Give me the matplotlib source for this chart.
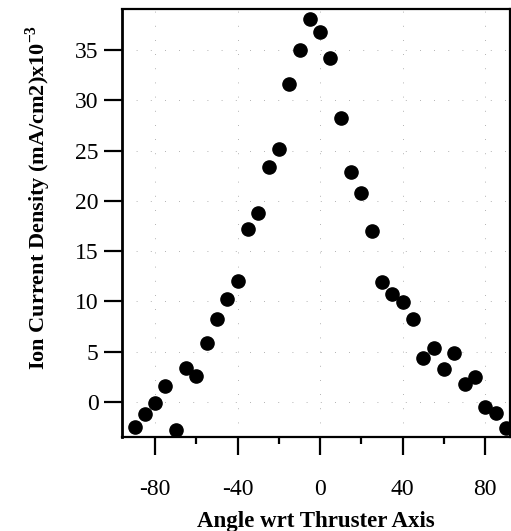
import matplotlib
matplotlib.use("Agg")
import matplotlib.pyplot as plt
from matplotlib.ticker import MultipleLocator

angle = [-90, -85, -80, -75, -70, -65, -60, -55, -50, -45, -40, -35, -30, -25, -20,
         -15, -10, -5, 0, 5, 10, 15, 20, 25, 30, 35, 40, 45, 50, 55, 60, 65, 70, 75,
         80, 85, 90]
density = [-2.5, -1.2, -0.1, 1.6, -2.8, 3.4, 2.6, 5.9, 8.2, 10.2, 12.0, 17.2, 18.8,
           23.4, 25.2, 31.6, 35.0, 38.1, 36.8, 34.2, 28.3, 22.9, 20.8, 17.0, 11.9,
           10.7, 9.9, 8.2, 4.4, 5.4, 3.3, 4.9, 1.8, 2.5, -0.5, -1.1, -2.6]
xticks = [-80, -40, 0, 40, 80]
yticks = [0, 5, 10, 15, 20, 25, 30, 35]

plt.rcParams['font.family'] = ['Liberation Serif', 'DejaVu Serif']
plt.rcParams['mathtext.fontset'] = 'custom'
plt.rcParams['mathtext.rm'] = 'Liberation Serif'
plt.rcParams['mathtext.bf'] = 'Liberation Serif:bold'
plt.rcParams['axes.unicode_minus'] = False

fig = plt.figure(figsize=(5.11, 5.31), dpi=100)
ax = fig.add_axes([0.239, 0.177, 0.759, 0.806])

ax.plot(angle, density, linestyle='none', marker='o', markersize=9.5,
        color='black')

ax.set_xlim(-96, 92)
ax.set_ylim(-3.5, 39.1)
ax.set_xticks(xticks)
ax.set_yticks(yticks)
ax.xaxis.set_minor_locator(MultipleLocator(20))

ax.grid(True, which='major', color='#999999', linewidth=0.6,
        linestyle=(0, (1, 16)))

for s in ax.spines.values():
    s.set_linewidth(1.6)
ax.spines['left'].set_linewidth(2.0)

ax.tick_params(axis='both', which='major', direction='out', length=13,
               width=1.6, labelsize=17, color='black')
ax.tick_params(axis='x', which='major', pad=17)
ax.tick_params(axis='y', which='major', pad=4)
ax.tick_params(axis='x', which='minor', direction='out', length=5, width=1.6)

ax.set_xlabel('Angle wrt Thruster Axis', fontsize=16.5, fontweight='bold')
ax.set_ylabel(r'Ion Current Density (mA/cm2)x10$^{\mathbf{-3}}$', fontsize=16,
              fontweight='bold')
ax.yaxis.set_label_coords(-0.178, 0.56)
ax.xaxis.set_label_coords(0.5, -0.174)

fig.savefig('out.png', dpi=100)
